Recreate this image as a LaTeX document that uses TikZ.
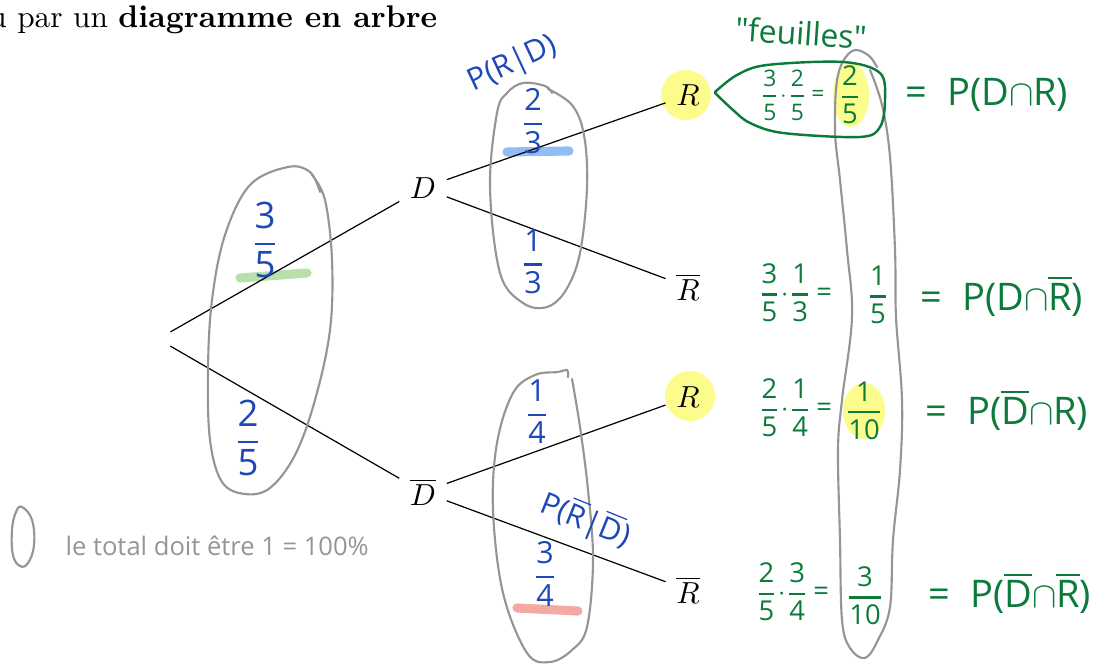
\documentclass[tikz,border=0pt]{standalone}
\usepackage{fontspec}
\usepackage{amsmath}
\usetikzlibrary{positioning}
\newfontfamily\hwfont{Open Sans}

\definecolor{inkBlue}{HTML}{1E48B8}
\definecolor{inkGreen}{HTML}{0B7A3B}
\definecolor{inkGrey}{HTML}{959595}
\definecolor{markYellow}{HTML}{FCFC8C}
\definecolor{markBlue}{HTML}{92BCF4}
\definecolor{markGreen}{HTML}{B7E0AC}
\definecolor{markRed}{HTML}{F4AAA2}

% handwritten fraction and bar
\newcommand{\hfrac}[2]{$\genfrac{}{}{0.7pt}{0}{\hbox{#1}}{\hbox{#2}}$}
\newcommand{\ovl}[1]{$\overline{\hbox{#1}}$}

\tikzset{
  branch/.style={black, line width=0.4pt},
  ringline/.style={inkGrey, line width=0.7pt, line cap=round},
  bubbleline/.style={inkGreen, line width=0.8pt, line cap=round},
  hlbar/.style={line width=3pt, line cap=round},
  blueInk/.style={inkBlue, inner sep=0pt, font=\hwfont\fontsize{10}{10}\selectfont},
  greenInk/.style={inkGreen, inner sep=0pt, font=\hwfont\fontsize{9}{9}\selectfont},
  greenBig/.style={inkGreen, inner sep=0pt, font=\hwfont\fontsize{12.5}{12.5}\selectfont},
}

\begin{document}
\begin{tikzpicture}[x=0.01155cm, y=-0.01155cm]
    \useasboundingbox (0,0) rectangle (1110,664);

    % Title line
    \node[anchor=base east, font=\fontsize{10.3}{12}\selectfont] (title) at (448,28) {ou par un \textbf{diagramme en arbre}};

    % Yellow highlights (behind everything)
    \fill[markYellow] (686,95) circle (25);
    \fill[markYellow] (690,396) circle (25);
    \fill[markYellow] (851,95) ellipse (18 and 32);
    \fill[markYellow] (864,411) ellipse (21 and 28);

    % Coloured underline marks
    \draw[hlbar, markGreen] (240,278) -- (307,273);
    \draw[hlbar, markBlue] (507,152) -- (569,151);
    \draw[hlbar, markRed] (517,608) -- (578,611);

    % Tree nodes
    \node[circle, inner sep=0pt, minimum size=9pt] (root) at (158,339) {};
    \node (D) at (423,188) {$D$};
    \node (Dbar) at (423,492) {$\overline{D}$};
    \node (R1) at (688,95) {$R$};
    \node (R1bar) at (688,287) {$\overline{R}$};
    \node (R2) at (688,397) {$R$};
    \node (R2bar) at (688,590) {$\overline{R}$};

    % Tree branches
    \draw[branch] (root) -- (D);
    \draw[branch] (root) -- (Dbar);
    \draw[branch] (D) -- (R1);
    \draw[branch] (D) -- (R1bar);
    \draw[branch] (Dbar) -- (R2);
    \draw[branch] (Dbar) -- (R2bar);

    % Grey hand-drawn rings
    \draw[ringline] plot[smooth, tension=0.6] coordinates {(312,175) (325,200) (332,260) (330,330) (315,400) (295,455) (270,488) (245,494) (222,482) (210,440) (208,370) (212,300) (225,235) (250,185) (288,167) (310,172) (320,192)};
    \draw[ringline] plot[smooth, tension=0.6] coordinates {(548,89) (572,105) (584,135) (587,187) (580,253) (566,290) (547,307) (523,303) (500,273) (490,187) (497,113) (507,93) (523,83) (545,86) (552,93)};
    \draw[ringline] plot[smooth, tension=0.6] coordinates {(572,379) (580,427) (588,490) (593,560) (587,627) (572,650) (550,662) (527,653) (503,593) (493,510) (497,443) (513,393) (535,375) (558,372) (567,370) (568,377)};
    \draw[ringline] plot[smooth, tension=0.6] coordinates {(870,70) (882,105) (890,157) (895,250) (896,317) (902,400) (900,470) (893,540) (890,607) (878,640) (865,658) (850,648) (842,620) (840,540) (838,450) (842,400) (852,317) (847,250) (840,180) (835,130) (838,75) (852,51) (868,55) (877,67)};
    \draw[ringline] plot[smooth cycle, tension=0.7] coordinates {(22,507) (32,520) (34,545) (28,563) (20,566) (13,555) (12,530) (16,512)};

    % Green speech bubble round the first leaf
    \draw[bubbleline] plot[smooth, tension=0.55] coordinates {(715,92) (737,75) (767,65) (843,62) (880,73) (885,100) (880,127) (860,137) (783,133) (750,123) (733,110) (715,93)};

    % Blue branch probabilities
    \node[blueInk, font=\hwfont\fontsize{12}{12}\selectfont] (pD) at (265,240) {\hfrac{3}{5}};
    \node[blueInk, font=\hwfont\fontsize{12}{12}\selectfont] (pDbar) at (248,438) {\hfrac{2}{5}};
    \node[blueInk] (pR1) at (533,121) {\hfrac{2}{3}};
    \node[blueInk] (pR1bar) at (533,262) {\hfrac{1}{3}};
    \node[blueInk] (pR2) at (537,412) {\hfrac{1}{4}};
    \node[blueInk] (pR2bar) at (545,574) {\hfrac{3}{4}};
    \node[blueInk, rotate=25] (condA) at (513,64) {P(R|D)};
    \node[blueInk, rotate=-22] (condB) at (586,520) {P(\ovl{R}|\ovl{D})};

    % Green leaf products
    \node[greenInk, font=\hwfont\fontsize{10.5}{10.5}\selectfont, rotate=-4] (leafTitle) at (801,33) {"feuilles"};
    \node[greenInk, font=\hwfont\fontsize{7.5}{7.5}\selectfont] (prodA) at (792,95) {\hfrac{3}{5}$\cdot$\hfrac{2}{5}\,=};
    \node[greenInk] (leafA) at (850,95) {\hfrac{2}{5}};
    \node[greenBig, anchor=west] (eqA) at (905,95) {=\ \ P(D$\cap$R)};

    \node[greenInk] (prodB) at (795,293) {\hfrac{3}{5}$\cdot$\hfrac{1}{3}\,=};
    \node[greenInk] (leafB) at (878,295) {\hfrac{1}{5}};
    \node[greenBig, anchor=west] (eqB) at (920,296) {=\ \ P(D$\cap$\ovl{R})};

    \node[greenInk] (prodC) at (795,408) {\hfrac{2}{5}$\cdot$\hfrac{1}{4}\,=};
    \node[greenInk] (leafC) at (864,411) {\hfrac{1}{10}};
    \node[greenBig, anchor=west] (eqC) at (925,410) {=\ \ P(\ovl{D}$\cap$R)};

    \node[greenInk] (prodD) at (792,592) {\hfrac{2}{5}$\cdot$\hfrac{3}{4}\,=};
    \node[greenInk] (leafD) at (865,596) {\hfrac{3}{10}};
    \node[greenBig, anchor=west] (eqD) at (928,593) {=\ \ P(\ovl{D}$\cap$\ovl{R})};

    % Grey legend
    \node[inkGrey, inner sep=0pt, font=\hwfont\fontsize{8.4}{8.4}\selectfont, anchor=west] (legend) at (65,546) {le total doit être 1 = 100\%};
\end{tikzpicture}
\end{document}
